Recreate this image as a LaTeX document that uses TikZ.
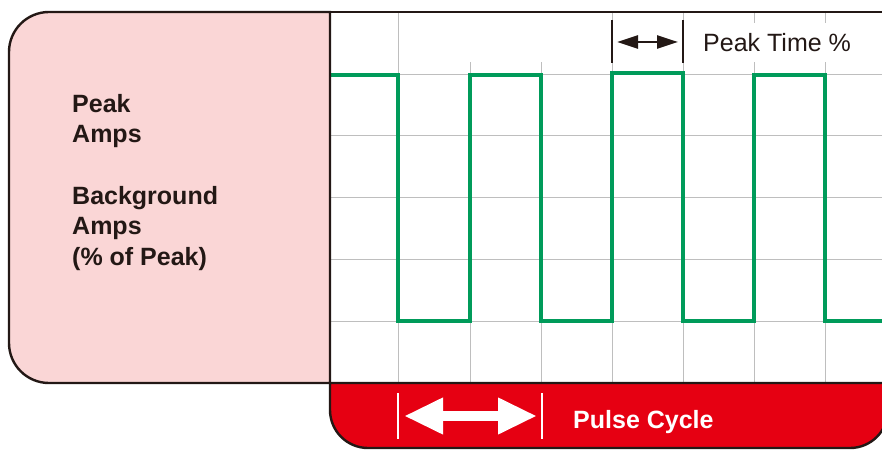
\documentclass[tikz,border=0pt]{standalone}
\usepackage{fontspec}
\setmainfont{Liberation Sans}
\usetikzlibrary{arrows.meta}
\definecolor{inkblack}{RGB}{35,24,21}
\definecolor{pinkbg}{RGB}{250,214,214}
\definecolor{pulsered}{RGB}{230,0,18}
\definecolor{wavegreen}{RGB}{0,155,90}
\definecolor{gridgray}{RGB}{190,190,190}
\newcommand{\bigtext}{\fontsize{25}{30.6}\selectfont}
\tikzset{
  gridline/.style={gridgray, line width=1pt},
  frame/.style={inkblack, line width=2.4pt},
  wave/.style={wavegreen, line width=3.2pt, line join=miter},
  tick/.style={line width=2pt},
}

\begin{document}
\begin{tikzpicture}[x=1pt, y=1pt]
        \useasboundingbox (0, 0) rectangle (882, 450);
        \clip (0, 0) rectangle (882, 450);
        \draw [gridline] (330, 375) -- (882, 375);
        \draw [gridline] (330, 314) -- (882, 314);
        \draw [gridline] (330, 252) -- (882, 252);
        \draw [gridline] (330, 191) -- (882, 191);
        \draw [gridline] (330, 129) -- (882, 129);
        \draw [gridline] (398, 67) -- (398, 438);
        \draw [gridline] (470, 67) -- (470, 388);
        \draw [gridline] (541, 67) -- (541, 388);
        \draw [gridline] (612, 67) -- (612, 438);
        \draw [gridline] (683, 67) -- (683, 438);
        \draw [gridline] (754, 67) -- (754, 438);
        \draw [gridline] (825, 67) -- (825, 438);
        \draw [wave] (331, 375) -- (398, 375) -- (398, 129) -- (470, 129) -- (470, 375) -- (541, 375) -- (541, 129) -- (612, 129) -- (612, 377) -- (683, 377) -- (683, 129) -- (754, 129) -- (754, 375) -- (825, 375) -- (825, 129) -- (885, 129);
        \filldraw [frame, fill=pinkbg] (330, 67) -- (49, 67) arc [start angle=270, end angle=180, radius=40] -- (9, 398) arc [start angle=180, end angle=90, radius=40] -- (330, 438) -- cycle;
        \filldraw [frame, fill=pulsered] (330, 67) -- (330, 40) arc [start angle=180, end angle=270, radius=38] -- (850, 2) arc [start angle=270, end angle=360, radius=38] -- (888, 67) -- cycle;
        \draw [frame] (330, 438) -- (884, 438);
        \node [anchor=north west, align=left, inner sep=0pt, font=\bigtext\bfseries, text=inkblack] (PK) at (72, 356) {Peak\\Amps};
        \node [anchor=north west, align=left, inner sep=0pt, font=\bigtext\bfseries, text=inkblack] (BG) at (72, 264) {Background\\Amps\\(\% of Peak)};
        \node [anchor=base west, fill=white, inner xsep=3pt, inner ysep=0pt, text height=29pt, text depth=10pt, font=\bigtext, text=inkblack] (PT) at (700, 398) {Peak Time \%};
        \coordinate (PLT) at (612, 430);
        \coordinate (PLB) at (612, 387);
        \coordinate (PRT) at (683, 430);
        \coordinate (PRB) at (683, 387);
        \coordinate (PA) at (617, 408);
        \coordinate (PB) at (678, 408);
        \draw [tick, inkblack] (PLT) -- (PLB);
        \draw [tick, inkblack] (PRT) -- (PRB);
        \draw [inkblack, line width=2.5pt, {Triangle[length=21pt, width=13pt]}-{Triangle[length=21pt, width=13pt]}] (PA) -- (PB);
        \coordinate (CLT) at (398, 57);
        \coordinate (CLB) at (398, 11);
        \coordinate (CRT) at (542, 57);
        \coordinate (CRB) at (542, 11);
        \coordinate (CA) at (404, 34);
        \coordinate (CB) at (537, 34);
        \draw [tick, white] (CLT) -- (CLB);
        \draw [tick, white] (CRT) -- (CRB);
        \draw [white, line width=10pt, {Triangle[length=39pt, width=34pt]}-{Triangle[length=39pt, width=34pt]}] (CA) -- (CB);
        \node [anchor=base west, inner sep=0pt, font=\bigtext\bfseries, text=white] (PC) at (573, 22) {Pulse Cycle};
\end{tikzpicture}
\end{document}
